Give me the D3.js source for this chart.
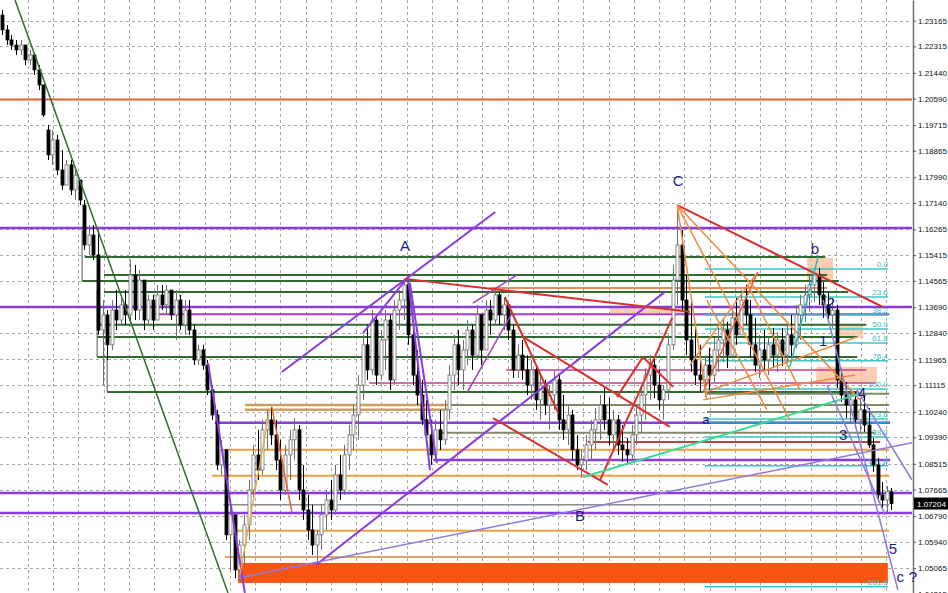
<!DOCTYPE html>
<html><head><meta charset="utf-8">
<script src="https://cdn.jsdelivr.net/npm/d3@7"></script>
<style>html,body{margin:0;padding:0;background:#fff;overflow:hidden}</style>
</head><body>
<svg id="c" width="948" height="593"></svg>
<script>
// ---------- DATA ----------
const opens=[1.2335,1.2286,1.2253,1.2236,1.2220,1.2236,1.2187,1.2203,1.2154,1.2104,
1.1955,1.1873,1.1922,1.1823,1.1773,1.1840,1.1757,1.1790,1.1707,1.1575,
1.1608,1.1542,1.1294,1.1344,1.1245,1.1360,1.1327,1.1377,1.1344,1.1476,
1.1360,1.1459,1.1327,1.1393,1.1327,1.1410,1.1377,1.1426,1.1344,1.1393,
1.1311,1.1360,1.1294,1.1195,1.1228,1.1178,1.1096,1.1013,1.0848,1.0898,
1.0617,1.0683,1.0501,1.0583,1.0650,1.0765,1.0881,1.0831,1.0964,1.0997,
1.0947,1.0864,1.0765,1.0881,1.0931,1.0964,1.0765,1.0699,1.0633,1.0583,
1.0617,1.0683,1.0732,1.0699,1.0815,1.0765,1.0881,1.0947,1.1013,1.1112,
1.1245,1.1162,1.1327,1.1145,1.1261,1.1327,1.1129,1.1360,1.1393,1.1443,
1.1278,1.1145,1.1079,1.0997,1.0947,1.0881,1.0964,1.0931,1.1030,1.1145,
1.1245,1.1162,1.1228,1.1294,1.1211,1.1344,1.1228,1.1360,1.1327,1.1410,
1.1344,1.1377,1.1294,1.1162,1.1211,1.1162,1.1112,1.1162,1.1063,1.1112,
1.1046,1.1079,1.1129,1.0997,1.0964,1.1013,1.0898,1.0848,1.0864,1.0914,
1.0964,1.0997,1.1046,1.0997,1.0947,1.0997,1.0914,1.0898,1.0881,1.0947,
1.1013,1.1079,1.1145,1.1178,1.1112,1.1063,1.1096,1.1245,1.1459,1.1575,
1.1393,1.1261,1.1195,1.1145,1.1129,1.1178,1.1145,1.1228,1.1261,1.1294,
1.1211,1.1334,1.1278,1.1393,1.1344,1.1245,1.1178,1.1228,1.1195,1.1245,
1.1211,1.1261,1.1211,1.1278,1.1245,1.1344,1.1377,1.1410,1.1443,1.1476,
1.1410,1.1377,1.1344,1.1360,1.1129,1.1079,1.1046,1.1063,1.0997,1.1030,
1.0980,1.0914,1.0848,1.0749,1.0732,1.0759];
const highs=[1.2352,1.2302,1.2269,1.2253,1.2253,1.2236,1.2220,1.2203,1.2170,1.2104,
1.1972,1.1955,1.1939,1.1889,1.1856,1.1856,1.1823,1.1790,1.1724,1.1641,
1.1641,1.1625,1.1393,1.1360,1.1393,1.1426,1.1410,1.1426,1.1526,1.1509,
1.1492,1.1426,1.1410,1.1410,1.1443,1.1443,1.1443,1.1426,1.1426,1.1410,
1.1393,1.1393,1.1311,1.1245,1.1245,1.1195,1.1112,1.1030,1.0931,1.0898,
1.0732,1.0683,1.0600,1.0683,1.0798,1.0914,1.0964,1.0997,1.1030,1.1040,
1.0997,1.0931,1.0914,1.0964,1.1003,1.0980,1.0848,1.0749,1.0716,1.0633,
1.0716,1.0765,1.0798,1.0848,1.0881,1.0914,1.0980,1.1046,1.1145,1.1278,
1.1311,1.1360,1.1344,1.1294,1.1360,1.1344,1.1393,1.1426,1.1463,1.1453,
1.1327,1.1228,1.1129,1.1063,1.0997,1.0997,1.1030,1.1063,1.1178,1.1278,
1.1294,1.1261,1.1327,1.1311,1.1377,1.1344,1.1393,1.1393,1.1433,1.1420,
1.1400,1.1377,1.1311,1.1245,1.1261,1.1211,1.1195,1.1178,1.1145,1.1129,
1.1112,1.1162,1.1145,1.1079,1.1046,1.1030,1.0947,1.0898,1.0947,1.0997,
1.1036,1.1079,1.1102,1.1069,1.1030,1.1013,1.0980,1.0937,1.0980,1.1036,
1.1112,1.1168,1.1211,1.1202,1.1162,1.1112,1.1278,1.1509,1.1707,1.1625,
1.1476,1.1393,1.1311,1.1245,1.1211,1.1235,1.1268,1.1301,1.1334,1.1321,
1.1367,1.1400,1.1426,1.1443,1.1393,1.1334,1.1278,1.1294,1.1268,1.1301,
1.1287,1.1301,1.1321,1.1344,1.1377,1.1410,1.1443,1.1473,1.1499,1.1499,
1.1453,1.1420,1.1400,1.1377,1.1168,1.1122,1.1102,1.1089,1.1069,1.1079,
1.1036,1.0937,1.0871,1.0792,1.0778,1.0772];
const lows=[1.2269,1.2236,1.2220,1.2203,1.2203,1.2170,1.2170,1.2137,1.2087,1.1998,
1.1856,1.1840,1.1806,1.1757,1.1773,1.1740,1.1724,1.1707,1.1559,1.1542,
1.1526,1.1278,1.1112,1.1195,1.1228,1.1294,1.1311,1.1311,1.1311,1.1327,
1.1327,1.1294,1.1311,1.1294,1.1327,1.1360,1.1344,1.1327,1.1261,1.1294,
1.1278,1.1278,1.1178,1.1178,1.1162,1.1079,1.0997,1.0831,1.0815,1.0600,
1.0501,1.0474,1.0484,1.0517,1.0600,1.0732,1.0798,1.0815,1.0898,1.0914,
1.0831,1.0732,1.0749,1.0798,1.0864,1.0732,1.0666,1.0600,1.0550,1.0524,
1.0567,1.0633,1.0666,1.0683,1.0732,1.0749,1.0831,1.0898,1.0931,1.1063,
1.1129,1.1145,1.1112,1.1129,1.1162,1.1096,1.1112,1.1294,1.1327,1.1245,
1.1112,1.1046,1.0980,1.0914,1.0848,1.0881,1.0898,1.0914,1.0997,1.1096,
1.1112,1.1096,1.1178,1.1162,1.1195,1.1178,1.1228,1.1278,1.1311,1.1311,
1.1294,1.1261,1.1135,1.1135,1.1129,1.1079,1.1063,1.1030,1.0997,1.1013,
1.0964,1.1030,1.0964,1.0931,1.0914,1.0864,1.0831,1.0805,1.0831,1.0864,
1.0898,1.0931,1.0964,1.0914,1.0891,1.0881,1.0858,1.0848,1.0858,1.0914,
1.0957,1.0997,1.1063,1.1069,1.1030,1.0997,1.1063,1.1228,1.1377,1.1360,
1.1211,1.1155,1.1112,1.1089,1.1073,1.1096,1.1122,1.1155,1.1188,1.1168,
1.1211,1.1245,1.1278,1.1311,1.1202,1.1155,1.1135,1.1155,1.1145,1.1168,
1.1155,1.1175,1.1188,1.1208,1.1235,1.1261,1.1321,1.1354,1.1387,1.1377,
1.1334,1.1321,1.1301,1.1102,1.1056,1.1003,1.0990,1.0970,1.0957,1.0957,
1.0904,1.0825,1.0726,1.0706,1.0692,1.0699];
const closes=[1.2286,1.2253,1.2236,1.2220,1.2236,1.2187,1.2203,1.2154,1.2104,1.2005,
1.1873,1.1922,1.1823,1.1773,1.1840,1.1757,1.1806,1.1724,1.1575,1.1608,
1.1542,1.1294,1.1344,1.1245,1.1360,1.1327,1.1377,1.1344,1.1476,1.1360,
1.1459,1.1327,1.1393,1.1327,1.1410,1.1377,1.1426,1.1344,1.1393,1.1311,
1.1360,1.1294,1.1195,1.1228,1.1178,1.1096,1.1013,1.0848,1.0898,1.0617,
1.0683,1.0501,1.0583,1.0650,1.0765,1.0881,1.0831,1.0964,1.0997,1.0947,
1.0864,1.0765,1.0881,1.0931,1.0964,1.0765,1.0699,1.0633,1.0583,1.0617,
1.0683,1.0732,1.0699,1.0815,1.0765,1.0881,1.0947,1.1013,1.1112,1.1245,
1.1162,1.1327,1.1145,1.1261,1.1327,1.1129,1.1360,1.1393,1.1443,1.1278,
1.1145,1.1079,1.0997,1.0947,1.0881,1.0964,1.0931,1.1030,1.1145,1.1245,
1.1162,1.1228,1.1294,1.1211,1.1344,1.1228,1.1360,1.1327,1.1410,1.1344,
1.1377,1.1294,1.1162,1.1211,1.1162,1.1112,1.1162,1.1063,1.1112,1.1046,
1.1079,1.1129,1.0997,1.0964,1.1013,1.0898,1.0848,1.0864,1.0914,1.0964,
1.0997,1.1046,1.0997,1.0947,1.0997,1.0914,1.0898,1.0881,1.0947,1.1013,
1.1079,1.1145,1.1178,1.1112,1.1063,1.1096,1.1245,1.1459,1.1575,1.1393,
1.1261,1.1195,1.1145,1.1129,1.1178,1.1145,1.1228,1.1261,1.1294,1.1211,
1.1334,1.1278,1.1393,1.1344,1.1245,1.1178,1.1228,1.1195,1.1245,1.1211,
1.1261,1.1211,1.1278,1.1245,1.1344,1.1377,1.1410,1.1443,1.1476,1.1410,
1.1377,1.1344,1.1360,1.1129,1.1079,1.1046,1.1063,1.0997,1.1030,1.0980,
1.0914,1.0848,1.0749,1.0732,1.0759,1.07204];

const priceTicks=[1.23165,1.22315,1.21440,1.20590,1.19715,1.18865,1.17990,1.17140,1.16265,1.15415,1.14565,
1.13690,1.12840,1.11965,1.11115,1.10240,1.09390,1.08515,1.07665,1.06790,1.05940,1.05065,1.04215];
const lastPrice=1.07204;

// horizontal levels: [price, fromBar, toBar, kind]
const hLevels=[
[1.2056,0,200,'orangeRed'],[1.1631,0,200,'purple'],[1.1370,0,200,'purple'],
[1.0755,0,200,'purple'],[1.0689,0,200,'purple'],
[1.1346,33.3,195,'violet'],[1.0987,47.1,195.2,'purple'],[1.0864,95,195.2,'purple'],
[1.1162,111,190,'magenta'],[1.1119,81,192,'magenta'],
[1.1535,18.6,181,'green'],[1.1476,22.8,181.4,'green'],[1.1456,18,184,'green'],[1.1420,22.8,186,'green'],
[1.1311,21.3,190,'green'],[1.1271,21.3,188,'green'],[1.1205,21.3,188,'green'],[1.1089,23.5,188,'green'],
[1.1083,155,195,'olive'],[1.1046,98.7,195,'olive'],[1.1023,155,195,'olive'],[1.0954,96.5,192,'olive'],
[1.0716,49,195,'gray'],[1.0987,155,195,'blue'],
[1.1046,53.7,98.2,'tan'],[1.1030,53.7,98.2,'tan'],
[1.0898,48.7,195,'orange'],[1.0812,46.5,195,'orange'],[1.0630,51.5,195,'orange'],[1.0544,49.3,195,'tanThin'],
[1.0924,128.9,193,'brownRed'],[1.1433,107.5,181.4,'orangeRedThin']
];
// vertical connector lines: [bar, priceTop, priceBottom]
const connectors=[[18,1.1625,1.1456],[21.3,1.1426,1.1205],[23.5,1.1205,1.1089]];
// fibonacci levels
const fibLabels=["0.0","23.6","38.2","50.0","61.8","76.4","100.0","123.6","138.2","161.8","261.8"];
const fibPrices=[1.1496,1.1403,1.1344,1.1297,1.1251,1.1192,1.1099,1.1000,1.0940,1.0845,1.0445];
const fibRange=[154.6,194.7];

// trend lines: [bar1, price1, bar2, price2, kind]
const trendLines=[
[3.29,1.2385,50,1.0425,'trendGreen'],
[61.8,1.1155,108.6,1.1684,'purple2'],[69.3,1.0517,145.8,1.1420,'purple2'],
[52.2,1.0474,200,1.0921,'lavender'],[45.6,1.1185,53.7,1.0425,'purple2'],
[79.6,1.1284,89.3,1.1466,'purple2'],[89.5,1.1466,94.3,1.0831,'purple2'],[89.9,1.1449,95.8,1.0854,'purple2'],
[103.7,1.1383,113.4,1.1476,'violetThin'],[102.4,1.1086,112.3,1.1350,'violetThin'],
[52.6,1.0484,59.2,1.1036,'orangeThin'],[59.6,1.1040,64,1.0692,'orangeRedThin'],
[148.5,1.1707,193.6,1.1370,'red'],[88.8,1.1463,151.3,1.1354,'red'],
[110.7,1.1403,122.4,1.1020,'red'],[114.7,1.1271,146.9,1.0974,'red'],[108.1,1.1003,133.3,1.0782,'red'],
[135.3,1.1073,141,1.1205,'red'],[141,1.1205,147.6,1.1106,'red'],[131.6,1.0798,147.4,1.1334,'red'],
[154.2,1.1089,166.2,1.1486,'redOrange'],
[148.5,1.1707,155,1.1063,'orangeLine'],[148.5,1.1707,173.2,1.0997,'orangeLine'],[148.5,1.1707,188.6,1.1063,'orangeLine'],
[154.2,1.1086,187.9,1.1271,'orangeLine'],[154.2,1.1063,187.5,1.1145,'orangeLine'],
[151.3,1.1178,166,1.1483,'orangeLine'],[155,1.1393,168.2,1.1030,'orangeLine'],[164,1.1443,175.4,1.1096,'orangeLine'],
[173.2,1.1172,179.4,1.1535,'teal'],[127.9,1.0808,188.6,1.1083,'lightGreen'],
[180.5,1.1393,196.9,1.0435,'lavender'],[181.4,1.1112,194.1,1.0683,'lavender'],[187.9,1.1096,200,1.0798,'lavender']
];
// shaded zones: [bar1, bar2, priceTop, priceBottom, kind]
const zones=[
[52.2,194.7,1.0524,1.0458,'band'],
[177,182.7,1.1532,1.1459,'peach'],[184.2,189.3,1.1311,1.1268,'peach'],
[179,192.3,1.1172,1.1119,'peach'],[133.8,151.3,1.1373,1.1350,'peach']
];
// wave labels: [text, bar, price]
const waveLabels=[["A",88.8,1.1555],["B",127.2,1.0663],["C",148.7,1.1770],["a",154.8,1.0983],
["b",178.7,1.1545],["1",180.5,1.1241],["2",182.2,1.1367],["3",184.9,1.0931],["4",189,1.1069],
["5",195.8,1.0554],["c",197.4,1.0461],["?",200.2,1.0461]];

// ---------- STYLES ----------
const st={
 purple:{c:'#8a3be0',w:2.5}, purple2:{c:'#8a3be0',w:2}, violet:{c:'#a43cc8',w:2}, violetThin:{c:'#a040c0',w:1.5},
 magenta:{c:'#c23c8e',w:1.5}, green:{c:'#2f6a2f',w:2}, olive:{c:'#7d8b6a',w:2}, gray:{c:'#8c8c8c',w:1.5},
 blue:{c:'#3a8fd0',w:2}, tan:{c:'#c9a063',w:2.5}, orange:{c:'#f0a040',w:2}, tanThin:{c:'#d9a86a',w:2},
 brownRed:{c:'#b84444',w:2}, orangeRed:{c:'#e8602c',w:2}, orangeRedThin:{c:'#e8602c',w:1.5},
 trendGreen:{c:'#2e6e2e',w:1.5}, lavender:{c:'#8c7ce0',w:1.5}, orangeThin:{c:'#f0a838',w:1.3},
 red:{c:'#d8302c',w:2}, redOrange:{c:'#e85a30',w:1.5}, orangeLine:{c:'#f08a40',w:1.5}, teal:{c:'#22b8c4',w:1.5},
 lightGreen:{c:'#3ed894',w:2}, cyan:{c:'#3cc4c4',w:1.5},
 band:{c:'#fa5412'}, peach:{c:'rgba(248,190,150,0.75)'}
};

// ---------- CHART ----------
const svg=d3.select('#c');
const plotW=912, H=593;
const x=d3.scaleLinear().domain([0,200]).range([0,plotW]);
const y=d3.scaleLinear().domain([1.04246,1.23849]).range([H,0]);
const FONT='Liberation Sans, Arial, sans-serif';

svg.append('defs').append('clipPath').attr('id','clip').append('rect').attr('x',0).attr('y',0).attr('width',plotW).attr('height',H);
svg.append('rect').attr('width',948).attr('height',593).attr('fill','#fff');
const g=svg.append('g').attr('clip-path','url(#clip)');

// grid
const gridBars=d3.range(0,36).map(k=>6.14+5.537*k);
g.append('g').selectAll('line').data(gridBars).join('line')
 .attr('x1',d=>Math.round(x(d))+0.5).attr('x2',d=>Math.round(x(d))+0.5).attr('y1',0).attr('y2',H)
 .attr('stroke','#a8a8a8').attr('stroke-width',1).attr('stroke-dasharray','3,3');
g.append('g').selectAll('line').data(priceTicks).join('line')
 .attr('x1',0).attr('x2',plotW).attr('y1',d=>Math.round(y(d))+0.5).attr('y2',d=>Math.round(y(d))+0.5)
 .attr('stroke','#a8a8a8').attr('stroke-width',1).attr('stroke-dasharray','3,3');

// zones
g.append('g').selectAll('rect').data(zones).join('rect')
 .attr('x',d=>x(d[0])).attr('width',d=>x(d[1])-x(d[0]))
 .attr('y',d=>y(d[2])).attr('height',d=>y(d[3])-y(d[2]))
 .attr('fill',d=>st[d[4]].c);

// horizontal levels
g.append('g').selectAll('line').data(hLevels).join('line')
 .attr('x1',d=>x(d[1])).attr('x2',d=>x(d[2])).attr('y1',d=>y(d[0])).attr('y2',d=>y(d[0]))
 .attr('stroke',d=>st[d[3]].c).attr('stroke-width',d=>st[d[3]].w);
g.append('g').selectAll('line').data(connectors).join('line')
 .attr('x1',d=>x(d[0])).attr('x2',d=>x(d[0])).attr('y1',d=>y(d[1])).attr('y2',d=>y(d[2]))
 .attr('stroke','#555').attr('stroke-width',1);

// fib levels
g.append('g').selectAll('line').data(fibPrices).join('line')
 .attr('x1',x(fibRange[0])).attr('x2',x(fibRange[1])).attr('y1',d=>y(d)).attr('y2',d=>y(d))
 .attr('stroke',st.cyan.c).attr('stroke-width',st.cyan.w);
g.append('g').selectAll('text').data(fibPrices).join('text')
 .attr('x',x(fibRange[1])).attr('y',d=>y(d)-2).attr('text-anchor','end')
 .attr('font-family',FONT).attr('font-size',8).attr('fill','#3cbcbc')
 .text((d,i)=>fibLabels[i]);

// candles
const idx=d3.range(closes.length);
const cg=g.append('g');
cg.selectAll('line').data(idx).join('line')
 .attr('x1',i=>Math.round(x(i+0.5))+0.5).attr('x2',i=>Math.round(x(i+0.5))+0.5)
 .attr('y1',i=>y(highs[i])).attr('y2',i=>y(lows[i]))
 .attr('stroke',i=>closes[i]>=opens[i]?'#6e6e6e':'#000').attr('stroke-width',1);
cg.selectAll('rect').data(idx).join('rect')
 .attr('x',i=>Math.round(x(i+0.5))-1).attr('width',3)
 .attr('y',i=>y(Math.max(opens[i],closes[i])))
 .attr('height',i=>Math.max(1,Math.abs(y(opens[i])-y(closes[i]))))
 .attr('fill',i=>closes[i]>=opens[i]?'#fff':'#000')
 .attr('stroke',i=>closes[i]>=opens[i]?'#6e6e6e':'#000').attr('stroke-width',0.8);

// trend lines
g.append('g').selectAll('line').data(trendLines).join('line')
 .attr('x1',d=>x(d[0])).attr('y1',d=>y(d[1])).attr('x2',d=>x(d[2])).attr('y2',d=>y(d[3]))
 .attr('stroke',d=>st[d[4]].c).attr('stroke-width',d=>st[d[4]].w);

// axis
const ax=svg.append('g').attr('transform','translate(913,0)')
 .call(d3.axisRight(y).tickValues(priceTicks).tickFormat(d3.format('.5f')).tickSize(3).tickSizeOuter(0));
ax.select('.domain').attr('stroke','#707070').attr('stroke-width',1.5);
ax.selectAll('.tick line').attr('stroke','#555');
ax.selectAll('.tick text').attr('font-family',FONT).attr('font-size',8).attr('fill','#111').attr('x',5);

// wave labels (not clipped)
svg.append('g').selectAll('text').data(waveLabels).join('text')
 .attr('x',d=>x(d[1])).attr('y',d=>y(d[2])).attr('text-anchor','middle')
 .attr('font-family',FONT)
 .attr('font-size',d=>(d[0]==='a'?13:15)).attr('fill','#1c1c86').text(d=>d[0]);

// last price box
svg.append('rect').attr('x',914).attr('y',y(lastPrice)-6).attr('width',34).attr('height',12).attr('fill','#000');
svg.append('text').attr('x',917).attr('y',y(lastPrice)+3).attr('font-family',FONT)
 .attr('font-size',8).attr('fill','#fff').text(d3.format('.5f')(lastPrice));
</script>
</body></html>
